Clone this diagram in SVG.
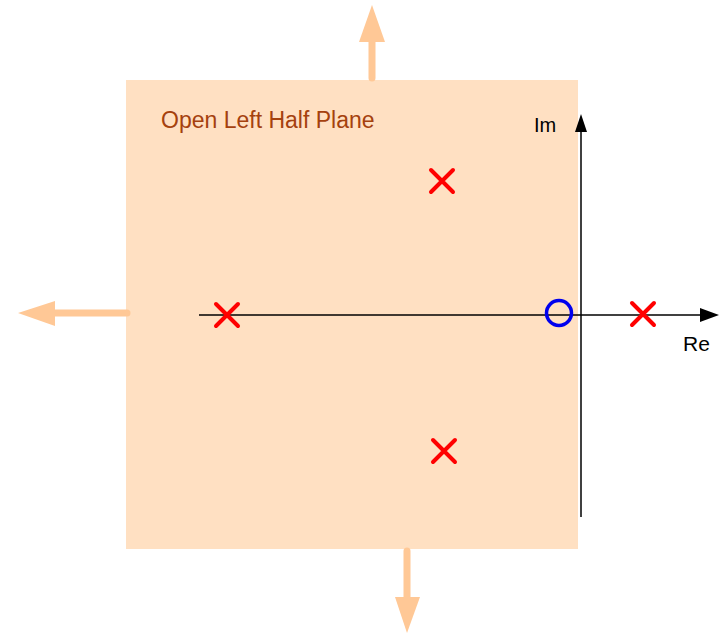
<svg xmlns="http://www.w3.org/2000/svg" width="727" height="633" viewBox="0 0 727 633">
<style>
.big{stroke:#FFC896;stroke-width:7;stroke-linecap:round;fill:none}
.bighead{fill:#FFC896}
.axis{stroke:#000;stroke-width:1.5;fill:none}
.pole{stroke:#FF0000;stroke-width:4;stroke-linecap:round;fill:none}
.zero{stroke:#0000EE;stroke-width:3.5;fill:none}
text{font-family:"Liberation Sans",Arial,sans-serif}
</style>
<rect width="727" height="633" fill="#fff"/>
<g id="region">
<rect x="126" y="80" width="452" height="469" fill="#FFE0C2"/>
<text x="161" y="128" font-size="23" fill="#A5410E">Open Left Half Plane</text>
</g>
<g id="expand-arrows">
<line class="big" x1="372" y1="78" x2="372" y2="40"/>
<polygon class="bighead" points="372,5 385,42 359,42"/>
<line class="big" x1="127" y1="313" x2="53" y2="313"/>
<polygon class="bighead" points="18,313 55,301 55,326"/>
<line class="big" x1="407" y1="551" x2="407" y2="600"/>
<polygon class="bighead" points="407,633 395,597 420,597"/>
</g>
<g id="axes">
<line class="axis" x1="199" y1="315" x2="702" y2="315"/>
<polygon points="719,315 700,308 700,322" fill="#000"/>
<line class="axis" x1="581" y1="517" x2="581" y2="130"/>
<polygon points="581,114 575,132 587,132" fill="#000"/>
<text x="534" y="132" font-size="20" fill="#000">Im</text>
<text x="683" y="351" font-size="21" fill="#000">Re</text>
</g>
<g id="poles">
<path class="pole" d="M431,170 L453,192 M453,170 L431,192"/>
<path class="pole" d="M433,440 L455,462 M455,440 L433,462"/>
<path class="pole" d="M216,304 L238,326 M238,304 L216,326"/>
<path class="pole" d="M632,303 L654,325 M654,303 L632,325"/>
</g>
<g id="zero">
<circle class="zero" cx="559" cy="313" r="12.5"/>
</g>
</svg>
